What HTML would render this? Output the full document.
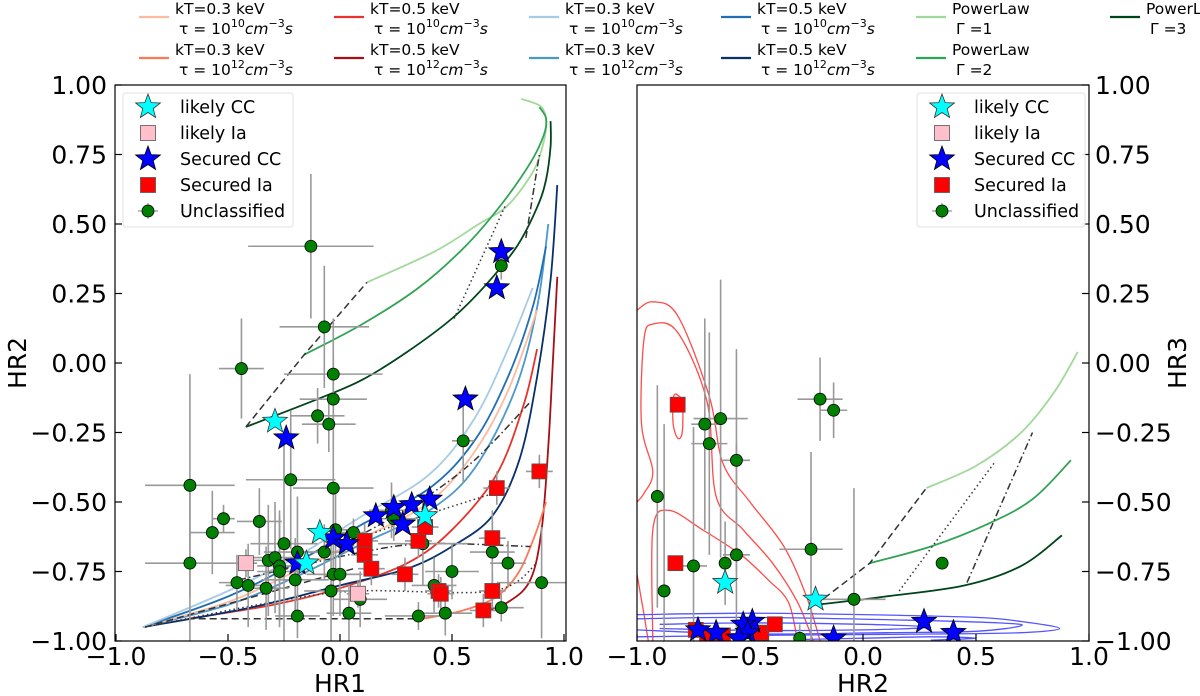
<!DOCTYPE html>
<html><head><meta charset="utf-8">
<style>
html,body{margin:0;padding:0;background:#fff;overflow:hidden;width:1200px;height:696px;}
svg{display:block;font-family:"DejaVu Sans","Liberation Sans",sans-serif;}
</style></head>
<body>
<svg id="chart" width="1200" height="696" viewBox="0 0 1200 696" xmlns="http://www.w3.org/2000/svg">
<g id="legendTop"></g>
<g id="left"></g>
<g id="right"></g>
</svg>
<script>
// ---------- DATA ----------
const L_unclX=[-0.13,-0.07,-0.44,-0.03,0.72,-0.03,-0.10,-0.05,0.55,-0.22,-0.67,-0.03,-0.52,-0.36,-0.57,-0.25,-0.02,0.06,0.23,0.24,-0.19,-0.07,0.37,-0.32,-0.29,-0.67,-0.27,-0.27,0.68,0.75,0.50,-0.03,0.00,-0.20,-0.46,-0.41,-0.33,-0.04,0.09,0.42,0.90,0.04,-0.19,0.35,0.47,0.72];
const L_unclY=[0.42,0.13,-0.02,-0.04,0.35,-0.13,-0.19,-0.22,-0.28,-0.42,-0.44,-0.45,-0.56,-0.57,-0.61,-0.65,-0.60,-0.61,-0.53,-0.56,-0.68,-0.68,-0.65,-0.71,-0.70,-0.72,-0.73,-0.75,-0.68,-0.72,-0.75,-0.76,-0.76,-0.78,-0.79,-0.80,-0.81,-0.82,-0.85,-0.80,-0.79,-0.90,-0.91,-0.91,-0.90,-0.88];
const L_unclXE=[0.28,0.2,0.1,0.22,0.02,0.15,0.12,0.12,0.05,0.2,0.2,0.18,0.05,0.1,0.1,0.15,0.1,0.06,0.1,0.1,0.15,0.1,0.2,0.1,0.1,0.2,0.1,0.1,0.1,0.08,0.12,0.12,0.1,0.15,0.08,0.1,0.1,0.12,0.12,0.1,0.2,0.1,0.1,0.15,0.12,0.1];
const L_unclYE=[0.26,0.22,0.18,0.2,0.05,0.15,0.1,0.1,0.15,0.25,0.4,0.2,0.05,0.12,0.15,0.4,0.15,0.05,0.1,0.08,0.2,0.1,0.15,0.2,0.2,0.3,0.2,0.2,0.15,0.08,0.1,0.15,0.15,0.15,0.1,0.15,0.15,0.2,0.1,0.1,0.2,0.1,0.08,0.05,0.08,0.05];
const L_likCCX=[-0.29,-0.09,-0.15,0.38], L_likCCY=[-0.21,-0.61,-0.72,-0.55];
const L_likIaX=[-0.42,0.08], L_likIaY=[-0.72,-0.83];
const L_secCCX=[0.72,0.70,-0.24,0.56,0.16,0.24,0.32,0.40,0.28,-0.03,0.03,-0.19];
const L_secCCY=[0.40,0.27,-0.27,-0.13,-0.55,-0.52,-0.51,-0.49,-0.58,-0.63,-0.65,-0.72];
const L_secIaX=[0.11,0.11,0.14,0.29,0.35,0.38,0.70,0.89,0.68,0.44,0.45,0.68,0.64];
const L_secIaY=[-0.64,-0.69,-0.74,-0.76,-0.64,-0.59,-0.45,-0.39,-0.63,-0.82,-0.83,-0.82,-0.89];
const T_pl1=[[0.12,0.29],[0.42,0.40],[0.62,0.50],[0.74,0.56],[0.84,0.66],[0.89,0.74],[0.92,0.85],[0.90,0.92],[0.81,0.95]];
const T_pl2=[[-0.16,0.03],[0.10,0.14],[0.35,0.27],[0.56,0.42],[0.72,0.57],[0.85,0.72],[0.91,0.82],[0.92,0.88],[0.89,0.92]];
const T_pl3=[[-0.42,-0.23],[-0.1,-0.13],[0.10,-0.06],[0.30,0.04],[0.50,0.16],[0.65,0.28],[0.79,0.42],[0.88,0.56],[0.92,0.66],[0.94,0.78],[0.94,0.87]];
const T_b3_10=[[-0.88,-0.95],[-0.5,-0.82],[-0.2,-0.70],[0.1,-0.55],[0.4,-0.40],[0.6,-0.20],[0.75,0.05],[0.86,0.27]];
const T_b5_10=[[-0.88,-0.95],[-0.5,-0.84],[-0.2,-0.72],[0.1,-0.58],[0.4,-0.45],[0.6,-0.28],[0.75,-0.05],[0.86,0.2],[0.92,0.42]];
const T_r3_10=[[-0.88,-0.95],[-0.5,-0.86],[-0.2,-0.75],[0.1,-0.63],[0.4,-0.50],[0.6,-0.32],[0.75,-0.1],[0.88,0.19]];
const T_b3_12=[[-0.88,-0.95],[-0.5,-0.87],[-0.2,-0.77],[0.1,-0.65],[0.4,-0.53],[0.6,-0.38],[0.78,-0.1],[0.88,0.2],[0.93,0.50]];
const T_r5_10=[[-0.68,-0.92],[-0.3,-0.87],[0.0,-0.81],[0.3,-0.72],[0.5,-0.60],[0.7,-0.40],[0.82,-0.15],[0.88,0.05]];
const T_b5_12=[[-0.88,-0.95],[-0.4,-0.88],[0.0,-0.80],[0.3,-0.74],[0.5,-0.66],[0.68,-0.55],[0.8,-0.35],[0.88,-0.05],[0.94,0.3],[0.97,0.64]];
const T_r3_12=[[0.37,-0.92],[0.55,-0.89],[0.70,-0.84],[0.80,-0.75],[0.87,-0.62],[0.92,-0.5]];
const T_r5_12=[[0.62,-0.90],[0.75,-0.86],[0.85,-0.78],[0.90,-0.60],[0.93,-0.3],[0.95,0.0],[0.97,0.31]];
const K_dash=[[[-0.87,-0.95],[0.06,-0.74]],[[-0.68,-0.92],[0.37,-0.92]],[[-0.42,-0.23],[-0.16,0.03],[0.12,0.29]]];
const K_dot=[[[-0.87,-0.95],[-0.3,-0.86],[0.08,-0.82],[0.68,-0.82],[0.88,-0.72]],[[0.12,-0.62],[0.37,-0.55],[0.68,-0.47]],[[0.51,0.16],[0.74,0.57]]];
const K_dashdot=[[[0.0,-0.66],[0.35,-0.5],[0.6,-0.35],[0.85,-0.14]],[[-0.45,-0.78],[0.1,-0.68],[0.4,-0.65],[0.85,-0.66]],[[0.83,0.45],[0.89,0.75]]];
const R_unclX=[-0.19,-0.13,-0.70,-0.63,-0.68,-0.56,-0.91,-0.23,-0.75,-0.61,-0.56,-0.88,-0.04,0.35,-0.28];
const R_unclY=[-0.13,-0.17,-0.22,-0.20,-0.29,-0.35,-0.48,-0.67,-0.73,-0.72,-0.69,-0.82,-0.85,-0.72,-0.99];
const R_unclXE=[0.1,0.06,0.06,0.12,0.08,0.06,0.02,0.14,0.06,0.02,0.06,0.02,0.14,0.02,0.02];
const R_unclYE=[0.15,0.1,0.38,0.5,0.4,0.4,0.4,0.35,0.5,0.15,0.4,0.6,0.4,0.02,0.05];
const R_likCCX=[-0.61,-0.21], R_likCCY=[-0.79,-0.85];
const R_secCCX=[-0.49,-0.53,-0.51,-0.55,-0.65,-0.73,-0.13,0.27,0.40];
const R_secCCY=[-0.93,-0.94,-0.97,-0.99,-0.97,-0.96,-0.99,-0.93,-0.97];
const R_secIaX=[-0.82,-0.83,-0.74,-0.69,-0.62,-0.45,-0.39];
const R_secIaY=[-0.15,-0.72,-0.96,-0.99,-0.98,-0.97,-0.94];
const R_pl1=[[0.28,-0.45],[0.5,-0.37],[0.7,-0.25],[0.85,-0.1],[0.95,0.04]];
const R_pl2=[[0.03,-0.72],[0.3,-0.66],[0.55,-0.58],[0.75,-0.49],[0.92,-0.35]];
const R_pl3=[[-0.21,-0.87],[0.1,-0.84],[0.45,-0.80],[0.7,-0.73],[0.88,-0.62]];
const R_dash=[[-0.21,-0.87],[0.03,-0.72],[0.28,-0.45]];
const R_dot=[[0.16,-0.82],[0.58,-0.36]];
const R_dashdot=[[0.46,-0.79],[0.75,-0.25]];
const C_red=[
 [[-1.0,0.19],[-0.93,0.22],[-0.82,0.17],[-0.68,-0.12],[-0.62,-0.36],[-0.50,-0.50],[-0.35,-0.66],[-0.25,-0.84],[-0.19,-1.0]],
 [[-1.0,-0.50],[-0.97,-0.47],[-0.93,-0.39],[-0.98,-0.22],[-0.97,0.08],[-0.93,0.14],[-0.82,0.11],[-0.69,-0.14],[-0.65,-0.48],[-0.53,-0.60],[-0.40,-0.72],[-0.29,-0.86],[-0.22,-1.0]],
 [[-0.93,-1.0],[-0.93,-0.60],[-0.86,-0.53],[-0.71,-0.60],[-0.54,-0.69],[-0.42,-0.78],[-0.33,-0.86],[-0.29,-1.0]],
 [[-0.83,-0.11],[-0.80,-0.14],[-0.80,-0.25],[-0.82,-0.27],[-0.84,-0.22],[-0.84,-0.13],[-0.83,-0.11]],
 [[-1.0,-0.76],[-0.97,-0.90],[-0.95,-1.0]]
];
const C_blue=[
 [[-1,-0.905],[-0.5,-0.90],[0,-0.905],[0.5,-0.915],[0.7,-0.93],[0.87,-0.955],[0.7,-0.97],[0.3,-0.975],[-0.5,-0.98],[-1,-0.985]],
 [[-1,-0.92],[-0.5,-0.915],[0.2,-0.925],[0.6,-0.935],[0.7,-0.945],[0.5,-0.965],[0.1,-0.97],[-0.5,-0.975],[-1,-0.96]],
 [[-0.9,-0.94],[-0.5,-0.935],[0,-0.94],[0.3,-0.95],[0,-0.96],[-0.5,-0.962],[-0.9,-0.955]],
 [[-0.3,-0.995],[0,-0.99],[0.3,-0.985],[0.5,-0.99],[0.3,-0.997]]
];
const yTicks=[1.00,0.75,0.50,0.25,0.00,-0.25,-0.50,-0.75,-1.00];
const xTicks=[-1.0,-0.5,0.0,0.5,1.0];

// ---------- HELPERS ----------
const NS="http://www.w3.org/2000/svg";
function mk(parent,tag,attrs){const e=document.createElementNS(NS,tag);for(const k in attrs)e.setAttribute(k,attrs[k]);parent.appendChild(e);return e;}
const Y0=363,YS=278;
function py(v){return Y0-YS*v;}
function axisL(v){return 340+224*v;}
function axisR(v){return 863+226*v;}
function fmtY(v){return (v<0?"\u2212":"")+Math.abs(v).toFixed(2);}
function fmtX(v){return (v<0?"\u2212":"")+Math.abs(v).toFixed(1);}
function smoothD(P){
  if(P.length<3)return P.map((p,i)=>(i?"L":"M")+p[0].toFixed(1)+","+p[1].toFixed(1)).join("");
  let d="M"+P[0][0].toFixed(1)+","+P[0][1].toFixed(1);
  for(let i=0;i<P.length-1;i++){
    const p0=P[Math.max(0,i-1)],p1=P[i],p2=P[i+1],p3=P[Math.min(P.length-1,i+2)];
    const c1=[p1[0]+(p2[0]-p0[0])/6,p1[1]+(p2[1]-p0[1])/6];
    const c2=[p2[0]-(p3[0]-p1[0])/6,p2[1]-(p3[1]-p1[1])/6];
    d+=`C${c1[0].toFixed(1)},${c1[1].toFixed(1)} ${c2[0].toFixed(1)},${c2[1].toFixed(1)} ${p2[0].toFixed(1)},${p2[1].toFixed(1)}`;
  }
  return d;
}
function line(g,pts,fx,color,w,dash,name,straight){
  const P=pts.map(p=>[fx(p[0]),py(p[1])]);
  const d=straight?P.map((p,i)=>(i?"L":"M")+p[0].toFixed(1)+","+p[1].toFixed(1)).join(""):smoothD(P);
  const e=mk(g,"path",{d:d,fill:"none",stroke:color,"stroke-width":w});
  if(dash)e.setAttribute("stroke-dasharray",dash);
  
  
  return e;
}
function starPath(cx,cy,r){let d="";for(let i=0;i<10;i++){const a=-Math.PI/2+i*Math.PI/5;const rr=i%2?r*0.42:r;d+=(i?"L":"M")+(cx+rr*Math.cos(a)).toFixed(1)+","+(cy+rr*Math.sin(a)).toFixed(1);}return d+"Z";}
function marker(g,type,cx,cy,name){
  let e;
  if(type==="circle")e=mk(g,"circle",{cx:cx,cy:cy,r:6,fill:"#008000",stroke:"#000","stroke-width":0.8});
  else if(type==="sq")e=mk(g,"rect",{x:cx-7.5,y:cy-7.5,width:15,height:15,fill:"#ff0000",stroke:"#555","stroke-width":0.8});
  else if(type==="sqp")e=mk(g,"rect",{x:cx-7.5,y:cy-7.5,width:15,height:15,fill:"#ffc0cb",stroke:"#555","stroke-width":0.8});
  else if(type==="starb")e=mk(g,"path",{d:starPath(cx,cy,13),fill:"#0000ff",stroke:"#000","stroke-width":0.8});
  else e=mk(g,"path",{d:starPath(cx,cy,13),fill:"#00ffff",stroke:"#333","stroke-width":0.8});
  
  
  return e;
}
function errbar(g,fx,x,y,xe,ye){
  const e=mk(g,"path",{d:`M${fx(x-xe)},${py(y)}L${fx(x+xe)},${py(y)}M${fx(x)},${py(y-ye)}L${fx(x)},${py(y+ye)}`,stroke:"#999","stroke-width":1.6,fill:"none"});
  
  
}
function frame(g,x0,x1,fx,right,label,ylabel){
  const clip=mk(g,"clipPath",{id:"clip"+(right?"R":"L")});
  mk(clip,"rect",{x:x0,y:85,width:x1-x0,height:556});
  const inner=mk(g,"g",{"clip-path":"url(#clip"+(right?"R":"L")+")"});
  const f=mk(g,"rect",{x:x0,y:85,width:x1-x0,height:556,fill:"none",stroke:"#000","stroke-width":1.2});
  
  
  yTicks.forEach(v=>{
    const yy=py(v);
    if(right){mk(g,"line",{x1:x1,x2:x1-7,y1:yy,y2:yy,stroke:"#000","stroke-width":1.2});
      const t=mk(g,"text",{x:x1+6,y:yy+9,"font-size":25,"text-anchor":"start"});t.textContent=fmtY(v);
      }
    else{mk(g,"line",{x1:x0,x2:x0+7,y1:yy,y2:yy,stroke:"#000","stroke-width":1.2});
      const t=mk(g,"text",{x:x0-8,y:yy+9,"font-size":25,"text-anchor":"end"});t.textContent=fmtY(v);
      }
  });
  xTicks.forEach(v=>{
    const xx=fx(v);
    if(xx>=x0-3&&xx<=x1+3)mk(g,"line",{x1:xx,x2:xx,y1:641,y2:634,stroke:"#000","stroke-width":1.2});
    const t=mk(g,"text",{x:xx,y:665,"font-size":25,"text-anchor":"middle"});t.textContent=fmtX(v);
    
  });
  const xl=mk(g,"text",{x:fx(0),y:692,"font-size":25,"text-anchor":"middle"});xl.textContent=label;
  
  const yx=right?1186:26;
  const yl=mk(g,"text",{x:yx,y:363,"font-size":25,"text-anchor":"middle",transform:`rotate(-90 ${yx} 363)`});yl.textContent=ylabel;
  
  return inner;
}
function legendBox(g,x,y,w){
  const box=mk(g,"rect",{x:x,y:y,width:w,height:134,rx:3,fill:"#fff",stroke:"#ddd","stroke-width":1,opacity:0.9});
  
  const items=[["starc","likely CC"],["sqp","likely Ia"],["starb","Secured CC"],["sq","Secured Ia"],["circle","Unclassified"]];
  items.forEach((it,i)=>{
    const cy=y+14+i*26;
    if(it[0]==="circle")mk(g,"path",{d:`M${x+15},${cy}L${x+35},${cy}M${x+25},${cy-8}L${x+25},${cy+8}`,stroke:"#999","stroke-width":1.2});
    marker(g,it[0],x+25,cy,'legend-marker');
    const t=mk(g,"text",{x:x+57,y:cy+6,"font-size":17.5});t.textContent=it[1];
    
  });
}

// ---------- LEFT PANEL ----------
const gl=document.getElementById("left");
const il=frame(gl,115,566,axisL,false,"HR1","HR2");
const C={r3_10:"#fcbba1",r5_10:"#e8322b",b3_10:"#a6cbe5",b5_10:"#1f6fb4",r3_12:"#fb7858",r5_12:"#a50f15",b3_12:"#4a98cc",b5_12:"#08306b",pl1:"#a1d99b",pl2:"#31a354",pl3:"#00441b"};
line(il,T_r5_12,axisL,C.r5_12,1.8,null,'track-kt05-tau12');
line(il,T_r3_12,axisL,C.r3_12,1.8,null,'track-kt03-tau12');
line(il,T_r5_10,axisL,C.r5_10,1.8,null,'track-kt05-tau10');
line(il,T_b5_12,axisL,C.b5_12,1.8,null,'track-kt05-tau12-blue');
line(il,T_b3_12,axisL,C.b3_12,1.8,null,'track-kt03-tau12-blue');
line(il,T_r3_10,axisL,C.r3_10,1.8,null,'track-kt03-tau10');
line(il,T_b5_10,axisL,C.b5_10,1.8,null,'track-kt05-tau10-blue');
line(il,T_b3_10,axisL,C.b3_10,1.8,null,'track-kt03-tau10-blue');
line(il,T_pl1,axisL,C.pl1,1.8,null,'powerlaw-gamma1');
line(il,T_pl2,axisL,C.pl2,1.8,null,'powerlaw-gamma2');
line(il,T_pl3,axisL,C.pl3,1.8,null,'powerlaw-gamma3');
K_dash.forEach(p=>line(il,p,axisL,"#333",1.5,"7,4",'dashed-link',true));
K_dot.forEach(p=>line(il,p,axisL,"#333",1.5,"1.5,3",'dotted-link'));
K_dashdot.forEach(p=>line(il,p,axisL,"#333",1.5,"7,3,1.5,3",'dashdot-link'));
L_unclX.forEach((x,i)=>errbar(il,axisL,x,L_unclY[i],L_unclXE[i],L_unclYE[i]));
L_likIaX.forEach((x,i)=>errbar(il,axisL,x,L_likIaY[i],0.05,0.05));
L_secIaX.forEach((x,i)=>errbar(il,axisL,x,L_secIaY[i],0.06,0.06));
L_unclX.forEach((x,i)=>marker(il,"circle",axisL(x),py(L_unclY[i]),'unclassified-point'));
L_likIaX.forEach((x,i)=>marker(il,"sqp",axisL(x),py(L_likIaY[i]),'likely-ia-point'));
L_secIaX.forEach((x,i)=>marker(il,"sq",axisL(x),py(L_secIaY[i]),'secured-ia-point'));
L_secCCX.forEach((x,i)=>marker(il,"starb",axisL(x),py(L_secCCY[i]),'secured-cc-point'));
L_likCCX.forEach((x,i)=>marker(il,"starc",axisL(x),py(L_likCCY[i]),'likely-cc-point'));
legendBox(gl,123,93,170);

// ---------- RIGHT PANEL ----------
const gr=document.getElementById("right");
const ir=frame(gr,637,1089,axisR,true,"HR2","HR3");
C_red.forEach(p=>line(ir,p,axisR,"#ff4b4b",1.3,null,'ia-density-contour'));
C_blue.forEach(p=>line(ir,p,axisR,"#5555ff",1.3,null,'cc-density-contour'));
line(ir,R_pl1,axisR,C.pl1,1.8,null,'powerlaw-gamma1');
line(ir,R_pl2,axisR,C.pl2,1.8,null,'powerlaw-gamma2');
line(ir,R_pl3,axisR,C.pl3,1.8,null,'powerlaw-gamma3');
line(ir,R_dash,axisR,"#333",1.5,"7,4",'dashed-link',true);
line(ir,R_dot,axisR,"#333",1.5,"1.5,3",'dotted-link');
line(ir,R_dashdot,axisR,"#333",1.5,"7,3,1.5,3",'dashdot-link');
R_unclX.forEach((x,i)=>errbar(ir,axisR,x,R_unclY[i],R_unclXE[i],R_unclYE[i]));
R_unclX.forEach((x,i)=>marker(ir,"circle",axisR(x),py(R_unclY[i]),'unclassified-point'));
R_secIaX.forEach((x,i)=>marker(ir,"sq",axisR(x),py(R_secIaY[i]),'secured-ia-point'));
R_secCCX.forEach((x,i)=>marker(ir,"starb",axisR(x),py(R_secCCY[i]),'secured-cc-point'));
R_likCCX.forEach((x,i)=>marker(ir,"starc",axisR(x),py(R_likCCY[i]),'likely-cc-point'));
legendBox(gr,917,93,168);

// ---------- TOP LEGEND ----------
const gt=document.getElementById("legendTop");
const topItems=[
 [139,17,C.r3_10,"kT=0.3 keV","10"],[334,17,C.r5_10,"kT=0.5 keV","10"],[529,17,C.b3_10,"kT=0.3 keV","10"],[721,17,C.b5_10,"kT=0.5 keV","10"],[916,17,C.pl1,"PowerLaw","\u0393 =1"],[1110,17,C.pl3,"PowerLaw","\u0393 =3"],
 [139,58,C.r3_12,"kT=0.3 keV","12"],[334,58,C.r5_12,"kT=0.5 keV","12"],[529,58,C.b3_12,"kT=0.3 keV","12"],[721,58,C.b5_12,"kT=0.5 keV","12"],[916,58,C.pl2,"PowerLaw","\u0393 =2"]
];
topItems.forEach(it=>{
  const [x,y,c,l1,l2]=it;
  const ln=mk(gt,"line",{x1:x,x2:x+30,y1:y,y2:y,stroke:c,"stroke-width":2.2});
  
  const tx=x+36;
  const t1=mk(gt,"text",{x:tx,y:y-3,"font-size":15.5});t1.textContent=l1;
  
  const t2=mk(gt,"text",{x:tx+4,y:y+17,"font-size":15.5});
  if(l2.length<=2){
    t2.innerHTML='\u03c4 = 10<tspan dy="-7" font-size="11">'+l2+'</tspan><tspan dy="7" font-style="italic">cm</tspan><tspan dy="-7" font-size="11">\u22123</tspan><tspan dy="7" font-style="italic">s</tspan>';
  } else t2.textContent=l2;
  
});
</script>
</body></html>
